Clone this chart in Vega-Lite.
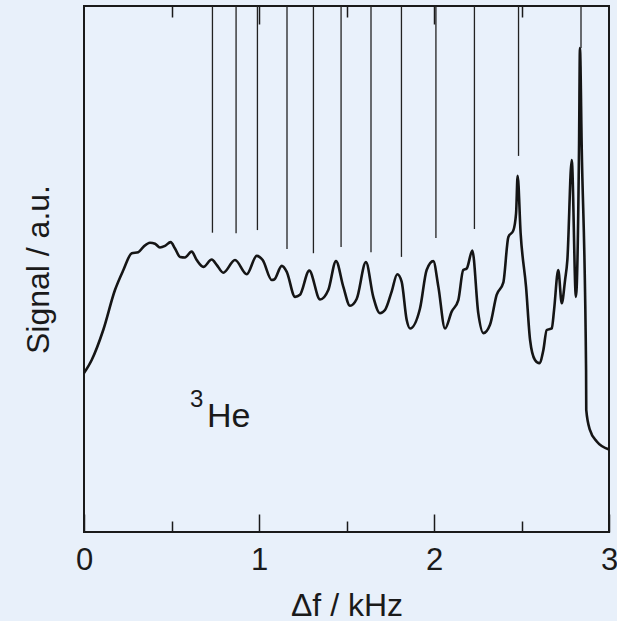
{
  "$schema": "https://vega.github.io/schema/vega-lite/v6.json",
  "width": 525,
  "height": 526,
  "autosize": {"type": "none"},
  "padding": {"left": 84, "top": 6, "right": 8, "bottom": 89},
  "background": "#e8f0fa",
  "config": {
    "view": {"stroke": "#1a1a1a", "strokeWidth": 2, "fill": "#e9f1fb"},
    "font": "Liberation Sans",
    "axis": {"domain": false, "grid": false, "tickColor": "#1a1a1a", "tickWidth": 1.5, "labelFont": "Liberation Sans", "titleFont": "Liberation Sans", "labelColor": "#1a1a1a", "titleColor": "#1a1a1a", "titleFontWeight": "normal"}
  },
  "datasets": {
    "curve": [
      {"f": 0.0, "s": 0.302}, {"f": 0.044, "s": 0.327}, {"f": 0.110, "s": 0.384}, {"f": 0.177, "s": 0.460},
      {"f": 0.225, "s": 0.498}, {"f": 0.273, "s": 0.530}, {"f": 0.310, "s": 0.532}, {"f": 0.339, "s": 0.542},
      {"f": 0.377, "s": 0.550}, {"f": 0.406, "s": 0.548}, {"f": 0.434, "s": 0.541}, {"f": 0.463, "s": 0.544},
      {"f": 0.495, "s": 0.551}, {"f": 0.520, "s": 0.539}, {"f": 0.549, "s": 0.523}, {"f": 0.577, "s": 0.522},
      {"f": 0.615, "s": 0.533}, {"f": 0.644, "s": 0.517}, {"f": 0.682, "s": 0.504}, {"f": 0.730, "s": 0.518},
      {"f": 0.758, "s": 0.508}, {"f": 0.796, "s": 0.493}, {"f": 0.863, "s": 0.517}, {"f": 0.930, "s": 0.490},
      {"f": 0.987, "s": 0.525}, {"f": 1.021, "s": 0.517}, {"f": 1.073, "s": 0.479}, {"f": 1.087, "s": 0.480},
      {"f": 1.130, "s": 0.506}, {"f": 1.158, "s": 0.495}, {"f": 1.206, "s": 0.447}, {"f": 1.234, "s": 0.451},
      {"f": 1.287, "s": 0.497}, {"f": 1.349, "s": 0.442}, {"f": 1.396, "s": 0.460}, {"f": 1.440, "s": 0.515},
      {"f": 1.482, "s": 0.466}, {"f": 1.520, "s": 0.430}, {"f": 1.558, "s": 0.443}, {"f": 1.611, "s": 0.513},
      {"f": 1.653, "s": 0.447}, {"f": 1.691, "s": 0.416}, {"f": 1.720, "s": 0.422}, {"f": 1.758, "s": 0.457},
      {"f": 1.790, "s": 0.490}, {"f": 1.815, "s": 0.476}, {"f": 1.844, "s": 0.403}, {"f": 1.863, "s": 0.387},
      {"f": 1.920, "s": 0.425}, {"f": 1.958, "s": 0.498}, {"f": 1.996, "s": 0.515}, {"f": 2.025, "s": 0.466},
      {"f": 2.063, "s": 0.387}, {"f": 2.101, "s": 0.419}, {"f": 2.139, "s": 0.441}, {"f": 2.167, "s": 0.498},
      {"f": 2.187, "s": 0.501}, {"f": 2.219, "s": 0.535}, {"f": 2.253, "s": 0.416}, {"f": 2.282, "s": 0.378},
      {"f": 2.320, "s": 0.394}, {"f": 2.358, "s": 0.451}, {"f": 2.396, "s": 0.474}, {"f": 2.425, "s": 0.561},
      {"f": 2.453, "s": 0.573}, {"f": 2.469, "s": 0.606}, {"f": 2.478, "s": 0.677}, {"f": 2.495, "s": 0.568},
      {"f": 2.526, "s": 0.466}, {"f": 2.549, "s": 0.365}, {"f": 2.577, "s": 0.327}, {"f": 2.602, "s": 0.321},
      {"f": 2.625, "s": 0.346}, {"f": 2.644, "s": 0.384}, {"f": 2.673, "s": 0.387}, {"f": 2.686, "s": 0.422},
      {"f": 2.710, "s": 0.498}, {"f": 2.730, "s": 0.435}, {"f": 2.749, "s": 0.479}, {"f": 2.762, "s": 0.517},
      {"f": 2.787, "s": 0.707}, {"f": 2.811, "s": 0.447}, {"f": 2.829, "s": 0.739}, {"f": 2.834, "s": 0.920},
      {"f": 2.844, "s": 0.733}, {"f": 2.869, "s": 0.308}, {"f": 2.870, "s": 0.232}, {"f": 2.891, "s": 0.194},
      {"f": 2.930, "s": 0.172}, {"f": 3.0, "s": 0.157}
    ],
    "lines": [
      {"f": 0.734, "s": 0.569}, {"f": 0.869, "s": 0.568}, {"f": 0.991, "s": 0.574}, {"f": 1.160, "s": 0.538},
      {"f": 1.311, "s": 0.530}, {"f": 1.469, "s": 0.542}, {"f": 1.640, "s": 0.532}, {"f": 1.814, "s": 0.523},
      {"f": 2.011, "s": 0.559}, {"f": 2.231, "s": 0.576}, {"f": 2.483, "s": 0.715}, {"f": 2.840, "s": 0.920}
    ],
    "sup": [{"f": 0.606, "s": 0.238, "t": "3"}],
    "main": [{"f": 0.703, "s": 0.2, "t": "He"}]
  },
  "resolve": {"axis": {"x": "independent", "y": "independent"}},
  "layer": [
    {
      "data": {"name": "curve"},
      "mark": {"type": "line", "color": "#151515", "strokeWidth": 2.6, "strokeJoin": "round", "interpolate": "monotone", "clip": true},
      "encoding": {
        "x": {"field": "f", "type": "quantitative", "scale": {"domain": [0, 3], "nice": false},
          "axis": {"orient": "bottom", "values": [0, 1, 2, 3], "tickSize": -18, "labelPadding": 55, "labelBaseline": "alphabetic", "labelFontSize": 31, "labelFlush": false, "format": "d",
            "title": "Δf / kHz", "titleFontSize": 32, "titleBaseline": "alphabetic", "titleY": 83}},
        "y": {"field": "s", "type": "quantitative", "scale": {"domain": [0, 1], "nice": false},
          "axis": {"ticks": false, "labels": false, "title": "Signal / a.u.", "titleFontSize": 32, "titlePadding": 29}}
      }
    },
    {
      "data": {"name": "lines"},
      "mark": {"type": "rule", "color": "#222222", "strokeWidth": 1.3},
      "encoding": {
        "x": {"field": "f", "type": "quantitative", "scale": {"domain": [0, 3], "nice": false},
          "axis": {"orient": "bottom", "values": [0.5, 1.5, 2.5], "tickSize": -11, "labels": false, "title": null}},
        "y": {"field": "s", "type": "quantitative", "scale": {"domain": [0, 1], "nice": false}, "axis": null},
        "y2": {"datum": 1}
      }
    },
    {
      "data": {"name": "sup"},
      "mark": {"type": "text", "fontSize": 24, "align": "left", "baseline": "alphabetic", "color": "#1a1a1a", "font": "Liberation Sans"},
      "encoding": {
        "x": {"field": "f", "type": "quantitative", "scale": {"domain": [0, 3], "nice": false},
          "axis": {"orient": "top", "values": [1, 2], "tickSize": -18, "labels": false, "title": null}},
        "y": {"field": "s", "type": "quantitative", "scale": {"domain": [0, 1], "nice": false}, "axis": null},
        "text": {"field": "t"}
      }
    },
    {
      "data": {"name": "main"},
      "mark": {"type": "text", "fontSize": 34, "align": "left", "baseline": "alphabetic", "color": "#1a1a1a", "font": "Liberation Sans"},
      "encoding": {
        "x": {"field": "f", "type": "quantitative", "scale": {"domain": [0, 3], "nice": false},
          "axis": {"orient": "top", "values": [0.5, 1.5, 2.5], "tickSize": -11, "labels": false, "title": null}},
        "y": {"field": "s", "type": "quantitative", "scale": {"domain": [0, 1], "nice": false}, "axis": null},
        "text": {"field": "t"}
      }
    }
  ]
}
